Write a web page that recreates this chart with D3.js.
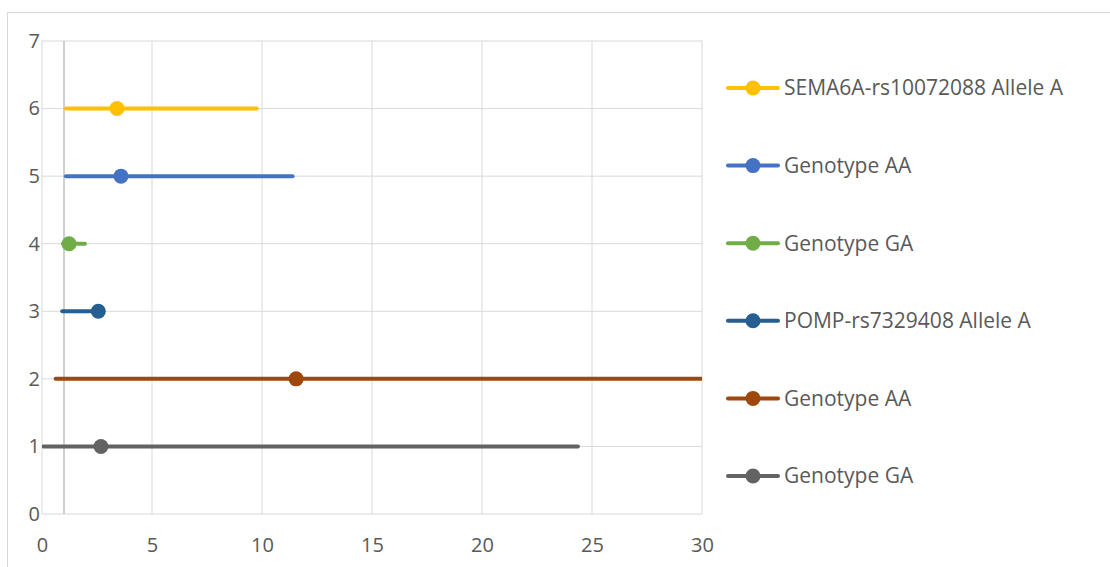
<!DOCTYPE html>
<html>
<head>
<meta charset="utf-8">
<script src="https://cdn.jsdelivr.net/npm/d3@7"></script>
<style>
  body { margin: 0; background: #fff; }
  text { font-family: 'Open Sans', 'Liberation Sans', sans-serif; fill: #595959; }
</style>
</head>
<body>
<div id="graf"></div>
<script>
// series, in the legend order (top to bottom)
const etiquetas = ['SEMA6A-rs10072088 Allele A', 'Genotype AA', 'Genotype GA',
  'POMP-rs7329408 Allele A', 'Genotype AA', 'Genotype GA']
const filas = [6, 5, 4, 3, 2, 1]
const puntos = [3.41, 3.59, 1.23, 2.56, 11.55, 2.68]
const bajos = [1.09, 1.09, 0.95, 0.92, 0.62, 0.06]
const altos = [9.76, 11.39, 1.95, 2.6, 38.0, 24.36]
const colores = ['#ffc000', '#4472c4', '#70ad47', '#255e91', '#9e480e', '#636363']

const xTicks = [0, 5, 10, 15, 20, 25, 30]
const yTicks = [0, 1, 2, 3, 4, 5, 6, 7]
const linea1 = 1

const anchoTotal = 1110
const altoTotal = 567
const margin = { top: 41, left: 42, right: 408, bottom: 53 }
const ancho = anchoTotal - margin.left - margin.right
const alto = altoTotal - margin.top - margin.bottom

const svg = d3.select('#graf')
  .append('svg')
  .attr('width', anchoTotal)
  .attr('height', altoTotal)

svg.append('rect')
  .attr('x', 7.5).attr('y', 12.5)
  .attr('width', anchoTotal + 10).attr('height', altoTotal + 10)
  .attr('fill', 'none')
  .attr('stroke', '#d9d9d9')

svg.append('defs').append('clipPath').attr('id', 'recorte')
  .append('rect').attr('width', ancho).attr('height', alto)

const g = svg.append('g')
  .attr('transform', `translate(${margin.left}, ${margin.top})`)

const x = d3.scaleLinear().domain([0, 30]).range([0, ancho])
const y = d3.scaleLinear().domain([0, 7]).range([alto, 0])

// grid
g.append('g')
  .selectAll('line')
  .data(xTicks)
  .join('line')
  .attr('x1', (d) => x(d)).attr('x2', (d) => x(d))
  .attr('y1', 0).attr('y2', alto)
  .attr('stroke', '#d9d9d9')

g.append('g')
  .selectAll('line')
  .data(yTicks)
  .join('line')
  .attr('x1', 0).attr('x2', ancho)
  .attr('y1', (d) => y(d)).attr('y2', (d) => y(d))
  .attr('stroke', '#d9d9d9')

g.append('line')
  .attr('x1', x(linea1)).attr('x2', x(linea1))
  .attr('y1', 0).attr('y2', alto)
  .attr('stroke', '#bfbfbf')
  .attr('stroke-width', 1.5)

// axes labels
g.append('g')
  .attr('transform', `translate(0, ${alto})`)
  .call(d3.axisBottom(x).tickValues(xTicks).tickSize(0).tickPadding(24).tickFormat(d3.format('d')))
  .call((s) => s.select('.domain').remove())
  .selectAll('text')
  .style('font-size', '20px')
  .attr('fill', '#595959')

g.append('g')
  .call(d3.axisLeft(y).tickValues(yTicks).tickSize(0).tickPadding(2).tickFormat(d3.format('d')))
  .call((s) => s.select('.domain').remove())
  .selectAll('text')
  .style('font-size', '20px')
  .attr('fill', '#595959')

// error bars and points
const series = g.append('g').attr('clip-path', 'url(#recorte)')

const idx = d3.range(etiquetas.length)

series.selectAll('line.barra')
  .data(idx)
  .join('line')
  .attr('class', 'barra')
  .attr('x1', (i) => x(bajos[i]))
  .attr('x2', (i) => x(altos[i]))
  .attr('y1', (i) => y(filas[i]))
  .attr('y2', (i) => y(filas[i]))
  .attr('stroke', (i) => colores[i])
  .attr('stroke-width', 4)
  .attr('stroke-linecap', 'round')

series.selectAll('circle')
  .data(idx)
  .join('circle')
  .attr('cx', (i) => x(puntos[i]))
  .attr('cy', (i) => y(filas[i]))
  .attr('r', 7.5)
  .attr('fill', (i) => colores[i])

// legend
const leyenda = svg.append('g')
  .attr('transform', 'translate(726, 88)')

const item = leyenda.selectAll('g')
  .data(idx)
  .join('g')
  .attr('transform', (i) => `translate(0, ${i * 77.6})`)

item.append('line')
  .attr('x1', 2).attr('x2', 52)
  .attr('stroke', (i) => colores[i])
  .attr('stroke-width', 4)
  .attr('stroke-linecap', 'round')

item.append('circle')
  .attr('cx', 27).attr('r', 7.5)
  .attr('fill', (i) => colores[i])

item.append('text')
  .attr('x', 58).attr('dy', '0.35em')
  .style('font-size', '21px')
  .text((i) => etiquetas[i])
</script>
</body>
</html>
